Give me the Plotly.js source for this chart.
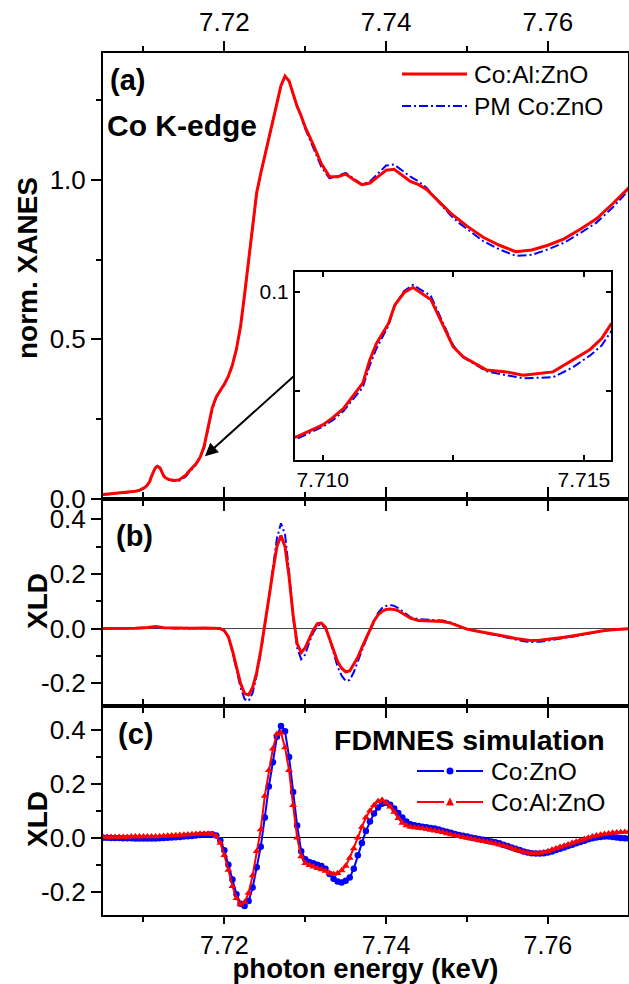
<!DOCTYPE html>
<html>
<head>
<meta charset="utf-8">
<script src="https://cdn.plot.ly/plotly-3.0.1.min.js"></script>
<style>html,body{margin:0;padding:0;background:#fff;}#chart{width:629px;height:984px;}</style>
</head>
<body>
<div id="chart"></div>
<script>
// ---------- DATA ----------
// (a) normalised XANES, Co K-edge
const xanesE = [7.7050, 7.7060, 7.7070, 7.7080, 7.7090, 7.7095, 7.7100, 7.7102, 7.7104, 7.71055,
  7.71077, 7.7109, 7.71103, 7.71126, 7.71138, 7.71156, 7.71173, 7.71207, 7.71231, 7.7125,
  7.71269, 7.71314, 7.71352, 7.71384, 7.71441, 7.71479, 7.71512, 7.71534, 7.71552, 7.7160,
  7.7165, 7.7170, 7.7175, 7.7180, 7.7185, 7.7190, 7.7195, 7.7200, 7.7205, 7.7210,
  7.7215, 7.7220, 7.7225, 7.7230, 7.7235, 7.7240, 7.7245, 7.7250, 7.7255, 7.7260,
  7.7265, 7.7270, 7.7275, 7.7280, 7.7285, 7.7290, 7.7295, 7.7300, 7.7310, 7.7320,
  7.7330, 7.7340, 7.7350, 7.7360, 7.7370, 7.7380, 7.7390, 7.7400, 7.7410, 7.7420,
  7.7430, 7.7440, 7.7450, 7.7460, 7.7470, 7.7480, 7.7490, 7.7500, 7.7520, 7.7540,
  7.7560, 7.7580, 7.7600, 7.7620, 7.7640, 7.7660, 7.7680, 7.7700];
const xanesCoAlZnO = [0.014, 0.016, 0.018, 0.021, 0.024, 0.027, 0.033, 0.0368, 0.0413, 0.0463,
  0.0542, 0.0656, 0.074, 0.0841, 0.0933, 0.0997, 0.1022, 0.0962, 0.0824, 0.0723,
  0.0673, 0.0606, 0.0597, 0.058, 0.0597, 0.0656, 0.071, 0.0765, 0.0837, 0.095,
  0.11, 0.13, 0.165, 0.225, 0.285, 0.32, 0.34, 0.36, 0.385, 0.42,
  0.47, 0.54, 0.64, 0.75, 0.86, 0.96, 1.02, 1.08, 1.13, 1.185,
  1.24, 1.295, 1.325, 1.31, 1.27, 1.23, 1.20, 1.165, 1.11, 1.05,
  1.01, 1.01, 1.018, 1.0, 0.985, 0.99, 1.01, 1.03, 1.033, 1.015,
  0.995, 0.985, 0.97, 0.945, 0.92, 0.895, 0.875, 0.855, 0.82, 0.795,
  0.775, 0.78, 0.795, 0.815, 0.845, 0.878, 0.925, 0.975];
const xanesPMCoZnO = [0.013, 0.015, 0.017, 0.020, 0.023, 0.026, 0.032, 0.0355, 0.040, 0.045,
  0.052, 0.063, 0.0715, 0.083, 0.093, 0.1005, 0.1035, 0.098, 0.084, 0.073,
  0.067, 0.060, 0.058, 0.0565, 0.057, 0.062, 0.068, 0.073, 0.080, 0.093,
  0.108, 0.128, 0.16, 0.22, 0.28, 0.318, 0.338, 0.358, 0.383, 0.418,
  0.468, 0.538, 0.64, 0.75, 0.86, 0.96, 1.02, 1.08, 1.13, 1.185,
  1.24, 1.295, 1.325, 1.31, 1.27, 1.23, 1.20, 1.16, 1.10, 1.04,
  1.005, 1.012, 1.022, 1.003, 0.985, 0.995, 1.02, 1.045, 1.048, 1.03,
  1.01, 0.995, 0.975, 0.945, 0.915, 0.888, 0.865, 0.845, 0.808, 0.782,
  0.762, 0.765, 0.782, 0.803, 0.833, 0.866, 0.913, 0.968];

// (b) measured XLD
const xldE = [7.7050, 7.7070, 7.7090, 7.7105, 7.7115, 7.7125, 7.7140, 7.7160, 7.7175, 7.7190,
  7.7195, 7.7200, 7.7205, 7.7210, 7.7215, 7.7220, 7.7225, 7.7230, 7.7235, 7.7240,
  7.7245, 7.7250, 7.7255, 7.7260, 7.7265, 7.7270, 7.7275, 7.7280, 7.7285, 7.7290,
  7.7295, 7.7300, 7.7305, 7.7310, 7.7315, 7.7320, 7.7325, 7.7330, 7.7335, 7.7340,
  7.7345, 7.7350, 7.7355, 7.7360, 7.7365, 7.7370, 7.7375, 7.7380, 7.7385, 7.7390,
  7.7395, 7.7400, 7.7405, 7.7410, 7.7415, 7.7420, 7.7425, 7.7430, 7.7440, 7.7450,
  7.7460, 7.7470, 7.7480, 7.7490, 7.7500, 7.7510, 7.7520, 7.7530, 7.7540, 7.7550,
  7.7560, 7.7570, 7.7580, 7.7590, 7.7600, 7.7610, 7.7620, 7.7630, 7.7640, 7.7650,
  7.7660, 7.7670, 7.7680, 7.7690, 7.7700];
const xldCoAlZnO = [0.000, 0.000, 0.001, 0.004, 0.008, 0.003, 0.001, 0.001, 0.002, 0.002,
  0.000, -0.008, -0.030, -0.080, -0.140, -0.200, -0.238, -0.243, -0.215, -0.160,
  -0.080, 0.010, 0.110, 0.210, 0.300, 0.340, 0.300, 0.190, 0.050, -0.055,
  -0.088, -0.070, -0.035, -0.005, 0.018, 0.020, 0.005, -0.035, -0.080, -0.120,
  -0.145, -0.158, -0.155, -0.130, -0.105, -0.070, -0.035, -0.005, 0.028, 0.050,
  0.063, 0.070, 0.072, 0.070, 0.065, 0.057, 0.048, 0.038, 0.030, 0.028,
  0.027, 0.026, 0.020, 0.008, -0.002, -0.008, -0.013, -0.018, -0.024, -0.030,
  -0.036, -0.041, -0.044, -0.043, -0.040, -0.036, -0.032, -0.027, -0.022, -0.016,
  -0.011, -0.007, -0.004, -0.002, 0.000];
const xldPMCoZnO = [0.000, 0.000, 0.000, 0.002, 0.005, 0.002, 0.000, 0.001, 0.002, 0.003,
  0.001, -0.006, -0.030, -0.085, -0.150, -0.215, -0.258, -0.265, -0.235, -0.170,
  -0.090, 0.005, 0.110, 0.220, 0.330, 0.385, 0.345, 0.210, 0.040, -0.070,
  -0.112, -0.095, -0.050, -0.015, 0.010, 0.015, 0.000, -0.035, -0.090, -0.140,
  -0.172, -0.192, -0.188, -0.160, -0.120, -0.080, -0.042, -0.008, 0.028, 0.058,
  0.075, 0.083, 0.086, 0.083, 0.075, 0.063, 0.052, 0.042, 0.034, 0.032,
  0.030, 0.030, 0.022, 0.008, -0.003, -0.008, -0.014, -0.020, -0.026, -0.033,
  -0.040, -0.046, -0.049, -0.048, -0.044, -0.040, -0.035, -0.030, -0.024, -0.018,
  -0.012, -0.008, -0.004, -0.002, -0.001];

// (c) FDMNES simulated XLD
const simE = [7.7050, 7.7055, 7.7060, 7.7065, 7.7070, 7.7075, 7.7080, 7.7085, 7.7090, 7.7095,
  7.7100, 7.7105, 7.7110, 7.7115, 7.7120, 7.7125, 7.7130, 7.7135, 7.7140, 7.7145,
  7.7150, 7.7155, 7.7160, 7.7165, 7.7170, 7.7175, 7.7180, 7.7185, 7.7190, 7.7195,
  7.7200, 7.7205, 7.7210, 7.7215, 7.7220, 7.7225, 7.7230, 7.7235, 7.7240, 7.7245,
  7.7250, 7.7255, 7.7260, 7.7265, 7.7270, 7.7275, 7.7280, 7.7285, 7.7290, 7.7295,
  7.7300, 7.7305, 7.7310, 7.7315, 7.7320, 7.7325, 7.7330, 7.7335, 7.7340, 7.7345,
  7.7350, 7.7355, 7.7360, 7.7365, 7.7370, 7.7375, 7.7380, 7.7385, 7.7390, 7.7395,
  7.7400, 7.7405, 7.7410, 7.7415, 7.7420, 7.7425, 7.7430, 7.7435, 7.7440, 7.7445,
  7.7450, 7.7455, 7.7460, 7.7465, 7.7470, 7.7475, 7.7480, 7.7485, 7.7490, 7.7495,
  7.7500, 7.7505, 7.7510, 7.7515, 7.7520, 7.7525, 7.7530, 7.7535, 7.7540, 7.7545,
  7.7550, 7.7555, 7.7560, 7.7565, 7.7570, 7.7575, 7.7580, 7.7585, 7.7590, 7.7595,
  7.7600, 7.7605, 7.7610, 7.7615, 7.7620, 7.7625, 7.7630, 7.7635, 7.7640, 7.7645,
  7.7650, 7.7655, 7.7660, 7.7665, 7.7670, 7.7675, 7.7680, 7.7685, 7.7690, 7.7695,
  7.7700];
const simCoZnO = [0.000, 0.000, -0.001, -0.001, -0.001, -0.002, -0.002, -0.002, -0.003, -0.003,
  -0.003, -0.003, -0.003, -0.003, -0.002, -0.001, 0.000, 0.001, 0.002, 0.003,
  0.004, 0.005, 0.006, 0.008, 0.010, 0.011, 0.012, 0.013, 0.008, -0.010,
  -0.047, -0.100, -0.155, -0.210, -0.245, -0.254, -0.235, -0.185, -0.110, -0.034,
  0.075, 0.190, 0.280, 0.375, 0.415, 0.395, 0.300, 0.170, 0.045, -0.050,
  -0.080, -0.090, -0.095, -0.100, -0.105, -0.115, -0.135, -0.152, -0.163, -0.166,
  -0.160, -0.148, -0.115, -0.065, -0.020, 0.025, 0.060, 0.090, 0.112, 0.126,
  0.130, 0.122, 0.108, 0.092, 0.075, 0.060, 0.050, 0.046, 0.043, 0.041,
  0.039, 0.036, 0.034, 0.030, 0.026, 0.022, 0.018, 0.014, 0.010, 0.007,
  0.004, 0.001, -0.002, -0.005, -0.008, -0.011, -0.014, -0.017, -0.021, -0.026,
  -0.031, -0.036, -0.041, -0.046, -0.051, -0.055, -0.058, -0.059, -0.059, -0.058,
  -0.055, -0.051, -0.046, -0.041, -0.036, -0.031, -0.026, -0.021, -0.016, -0.011,
  -0.006, -0.002, 0.001, 0.003, 0.004, 0.004, 0.003, 0.001, -0.001, -0.002,
  -0.003];
const simCoAlZnO = [0.003, 0.003, 0.003, 0.003, 0.003, 0.003, 0.003, 0.004, 0.004, 0.004,
  0.004, 0.004, 0.004, 0.004, 0.005, 0.006, 0.007, 0.008, 0.009, 0.010,
  0.011, 0.012, 0.013, 0.014, 0.015, 0.015, 0.015, 0.014, 0.005, -0.020,
  -0.065, -0.120, -0.180, -0.225, -0.248, -0.240, -0.205, -0.140, -0.050, 0.030,
  0.155, 0.250, 0.330, 0.385, 0.390, 0.335, 0.250, 0.120, 0.000, -0.070,
  -0.095, -0.102, -0.108, -0.113, -0.118, -0.124, -0.131, -0.135, -0.132, -0.122,
  -0.105, -0.075, -0.040, 0.000, 0.040, 0.075, 0.100, 0.120, 0.135, 0.140,
  0.130, 0.115, 0.095, 0.072, 0.055, 0.045, 0.040, 0.038, 0.036, 0.034,
  0.032, 0.029, 0.026, 0.023, 0.020, 0.016, 0.012, 0.008, 0.005, 0.002,
  -0.001, -0.004, -0.007, -0.010, -0.013, -0.016, -0.019, -0.022, -0.026, -0.030,
  -0.034, -0.039, -0.044, -0.049, -0.053, -0.056, -0.058, -0.058, -0.057, -0.054,
  -0.050, -0.045, -0.040, -0.035, -0.030, -0.025, -0.020, -0.015, -0.010, -0.005,
  0.000, 0.004, 0.008, 0.011, 0.014, 0.016, 0.018, 0.019, 0.020, 0.021,
  0.022];

// tick labels
const xTickVals = [7.72, 7.74, 7.76];
const xTickText = ['7.72', '7.74', '7.76'];
const xMinorVals = [7.71, 7.73, 7.75];
const aTickVals = [0, 0.5, 1.0];
const aTickText = ['0.0', '0.5', '1.0'];
const aMinorVals = [0.25, 0.75, 1.25];
const xldTickVals = [-0.2, 0, 0.2, 0.4];
const xldTickText = ['-0.2', '0.0', '0.2', '0.4'];
const xldMinorVals = [-0.1, 0.1, 0.3];
const insetXTickVals = [7.710, 7.7125, 7.715];
const insetXTickText = ['7.710', '', '7.715'];
const insetYTickVals = [0.05, 0.1];
const insetYTickText = ['', '0.1'];

// ---------- STYLE ----------
const FONT = 'Liberation Sans, Arial, Helvetica, sans-serif';
const RED = '#FF0000', BLUE = '#0000FF';
const DASHDOT = '9px,3px,2px,3px';
const TICKFONT = {family: FONT, size: 26, color: '#000'};

function frameAxis(extra) {
  return Object.assign({
    showline: true, linewidth: 2, linecolor: '#000', mirror: 'ticks',
    ticks: 'outside', ticklen: 10, tickwidth: 2, tickcolor: '#000',
    showgrid: false, zeroline: false, tickfont: TICKFONT, tickmode: 'array'
  }, extra);
}
function minor(vals, dir) {
  return {tickmode: 'array', tickvals: vals, ticks: dir, ticklen: 5, tickwidth: 2, tickcolor: '#000', showgrid: false};
}
const xRange = [7.705, 7.7699];
const xBase = {range: xRange, tickvals: xTickVals, ticktext: xTickText, minor: minor(xMinorVals, 'outside')};

const yRangeA = [-0.001, 1.3975];
const yRangeB = [-0.283, 0.473];
const yRangeC = [-0.287, 0.489];

function rightAxis(over, anchor, range, vals, mvals) {
  return {overlaying: over, side: 'right', anchor: anchor, range: range, tickmode: 'array', tickvals: vals,
    ticks: 'inside', ticklen: 10, tickwidth: 2, tickcolor: '#000', showticklabels: false,
    showline: false, showgrid: false, zeroline: false, minor: minor(mvals, 'inside')};
}

const traces = [
  {x: xanesE, y: xanesPMCoZnO, xaxis: 'x', yaxis: 'y', mode: 'lines', line: {color: BLUE, width: 2, dash: DASHDOT}},
  {x: xanesE, y: xanesCoAlZnO, xaxis: 'x', yaxis: 'y', mode: 'lines', line: {color: RED, width: 3}},
  {x: xanesE, y: xanesPMCoZnO, xaxis: 'x4', yaxis: 'y4', mode: 'lines', line: {color: BLUE, width: 2, dash: DASHDOT}},
  {x: xanesE, y: xanesCoAlZnO, xaxis: 'x4', yaxis: 'y4', mode: 'lines', line: {color: RED, width: 3}},
  {x: xldE, y: xldPMCoZnO, xaxis: 'x2', yaxis: 'y2', mode: 'lines', line: {color: BLUE, width: 2, dash: DASHDOT}},
  {x: xldE, y: xldCoAlZnO, xaxis: 'x2', yaxis: 'y2', mode: 'lines', line: {color: RED, width: 3}},
  {x: simE, y: simCoZnO, xaxis: 'x3', yaxis: 'y3', mode: 'lines+markers', line: {color: BLUE, width: 2},
    marker: {symbol: 'circle', size: 6.5, color: BLUE}},
  {x: simE, y: simCoAlZnO, xaxis: 'x3', yaxis: 'y3', mode: 'lines+markers', line: {color: RED, width: 2},
    marker: {symbol: 'triangle-up', size: 7, color: RED}}
];

// helpers for paper coordinates from plot-area pixels
const PL = 103, PW = 525, PB = 915, PH = 862;
const px = v => (v - PL) / PW;
const py = v => (PB - v) / PH;

function label(text, x, y, size, anchor, angle) {
  return {text: text, xref: 'paper', yref: 'paper', x: px(x), y: py(y), xanchor: anchor || 'left', yanchor: 'middle',
    textangle: angle || 0, showarrow: false, font: {family: FONT, size: size, color: '#000'}};
}

const annotations = [
  label('<b>norm. XANES</b>', 27, 268, 28, 'center', -90),
  label('<b>XLD</b>', 37, 601, 28, 'center', -90),
  label('<b>XLD</b>', 37, 819, 28, 'center', -90),
  label('<b>(a)</b>', 108, 80, 29),
  label('<b>Co K-edge</b>', 105, 125, 30),
  label('<b>(b)</b>', 114, 536, 29),
  label('<b>(c)</b>', 116, 734, 29),
  label('<b>FDMNES simulation</b>', 607, 740, 28.5, 'right'),
  label('Co:Al:ZnO', 472, 74, 24.5),
  label('PM Co:ZnO', 472, 106, 24.5),
  label('Co:ZnO', 489, 771, 24.5),
  label('Co:Al:ZnO', 489, 802, 24.5),
  {x: 7.7176, y: 0.134, xref: 'x', yref: 'y', ax: 90, ay: -81, axref: 'pixel', ayref: 'pixel', text: '',
    showarrow: true, arrowhead: 2, arrowsize: 1.3, arrowwidth: 2, arrowcolor: '#000', standoff: 0}
];

function seg(x0, x1, y, color, width, dash) {
  return {type: 'line', xref: 'paper', yref: 'paper', x0: px(x0), x1: px(x1), y0: py(y), y1: py(y),
    line: {color: color, width: width, dash: dash || 'solid'}};
}
const shapes = [
  seg(402, 467, 74, RED, 3),
  seg(402, 467, 106, BLUE, 2, DASHDOT),
  seg(417, 444, 771, BLUE, 2), seg(456, 483, 771, BLUE, 2),
  {type: 'circle', xref: 'paper', yref: 'paper', x0: px(446.5), x1: px(453.5), y0: py(774.5), y1: py(767.5),
    fillcolor: BLUE, line: {color: BLUE, width: 0}},
  seg(417, 444, 802, RED, 2), seg(456, 483, 802, RED, 2),
  {type: 'path', xref: 'paper', yref: 'paper',
    path: 'M' + px(446) + ',' + py(805.5) + ' L' + px(454) + ',' + py(805.5) + ' L' + px(450) + ',' + py(797.5) + ' Z',
    fillcolor: RED, line: {color: RED, width: 0}}
];

const layout = {
  width: 629, height: 984, margin: {l: PL, r: 1, t: 53, b: 69, pad: 0},
  paper_bgcolor: '#fff', plot_bgcolor: 'rgba(0,0,0,0)', showlegend: false,
  font: {family: FONT, color: '#000'},
  xaxis: frameAxis(Object.assign({}, xBase, {anchor: 'y', side: 'top'})),
  xaxis2: frameAxis(Object.assign({}, xBase, {anchor: 'y2', showticklabels: false})),
  xaxis3: frameAxis(Object.assign({}, xBase, {anchor: 'y3', side: 'bottom', ticklen: 7,
    tickfont: {family: FONT, size: 25, color: '#000'},
    title: {text: '<b>photon energy (keV)</b>', font: {family: FONT, size: 27.5, color: '#000'}, standoff: 0}})),
  yaxis: frameAxis({domain: [0.4823, 1], anchor: 'x', range: yRangeA, tickvals: aTickVals, ticktext: aTickText,
    mirror: true, minor: minor(aMinorVals, 'outside')}),
  yaxis2: frameAxis({domain: [0.2425, 0.4823], anchor: 'x2', range: yRangeB, tickvals: xldTickVals, ticktext: xldTickText,
    mirror: true, minor: minor(xldMinorVals, 'outside'), zeroline: true, zerolinecolor: '#444', zerolinewidth: 1}),
  yaxis3: frameAxis({domain: [0, 0.2425], anchor: 'x3', range: yRangeC, tickvals: xldTickVals, ticktext: xldTickText,
    mirror: true, minor: minor(xldMinorVals, 'outside'), zeroline: true, zerolinecolor: '#000', zerolinewidth: 1}),
  yaxis5: rightAxis('y', 'x', yRangeA, aTickVals, aMinorVals),
  yaxis6: rightAxis('y2', 'x2', yRangeB, xldTickVals, xldMinorVals),
  yaxis7: rightAxis('y3', 'x3', yRangeC, xldTickVals, xldMinorVals),
  xaxis4: {domain: [0.3657, 0.9676], anchor: 'y4', range: [7.70947, 7.71552], tickmode: 'array',
    tickvals: insetXTickVals, ticktext: insetXTickText, ticks: 'inside', ticklen: 5, tickwidth: 2, tickcolor: '#000',
    showline: true, linewidth: 2, linecolor: '#000', mirror: 'ticks', showgrid: false, zeroline: false,
    tickfont: {family: FONT, size: 21, color: '#000'}},
  yaxis4: {domain: [0.5278, 0.7459], anchor: 'x4', range: [0.0153, 0.110], tickmode: 'array',
    tickvals: insetYTickVals, ticktext: insetYTickText, ticks: 'inside', ticklen: 5, tickwidth: 2, tickcolor: '#000',
    showline: true, linewidth: 2, linecolor: '#000', mirror: 'ticks', showgrid: false, zeroline: false,
    tickfont: {family: FONT, size: 21, color: '#000'}},
  annotations: annotations,
  shapes: shapes
};

Plotly.newPlot('chart', traces, layout, {displayModeBar: false, staticPlot: true});
</script>
</body>
</html>
